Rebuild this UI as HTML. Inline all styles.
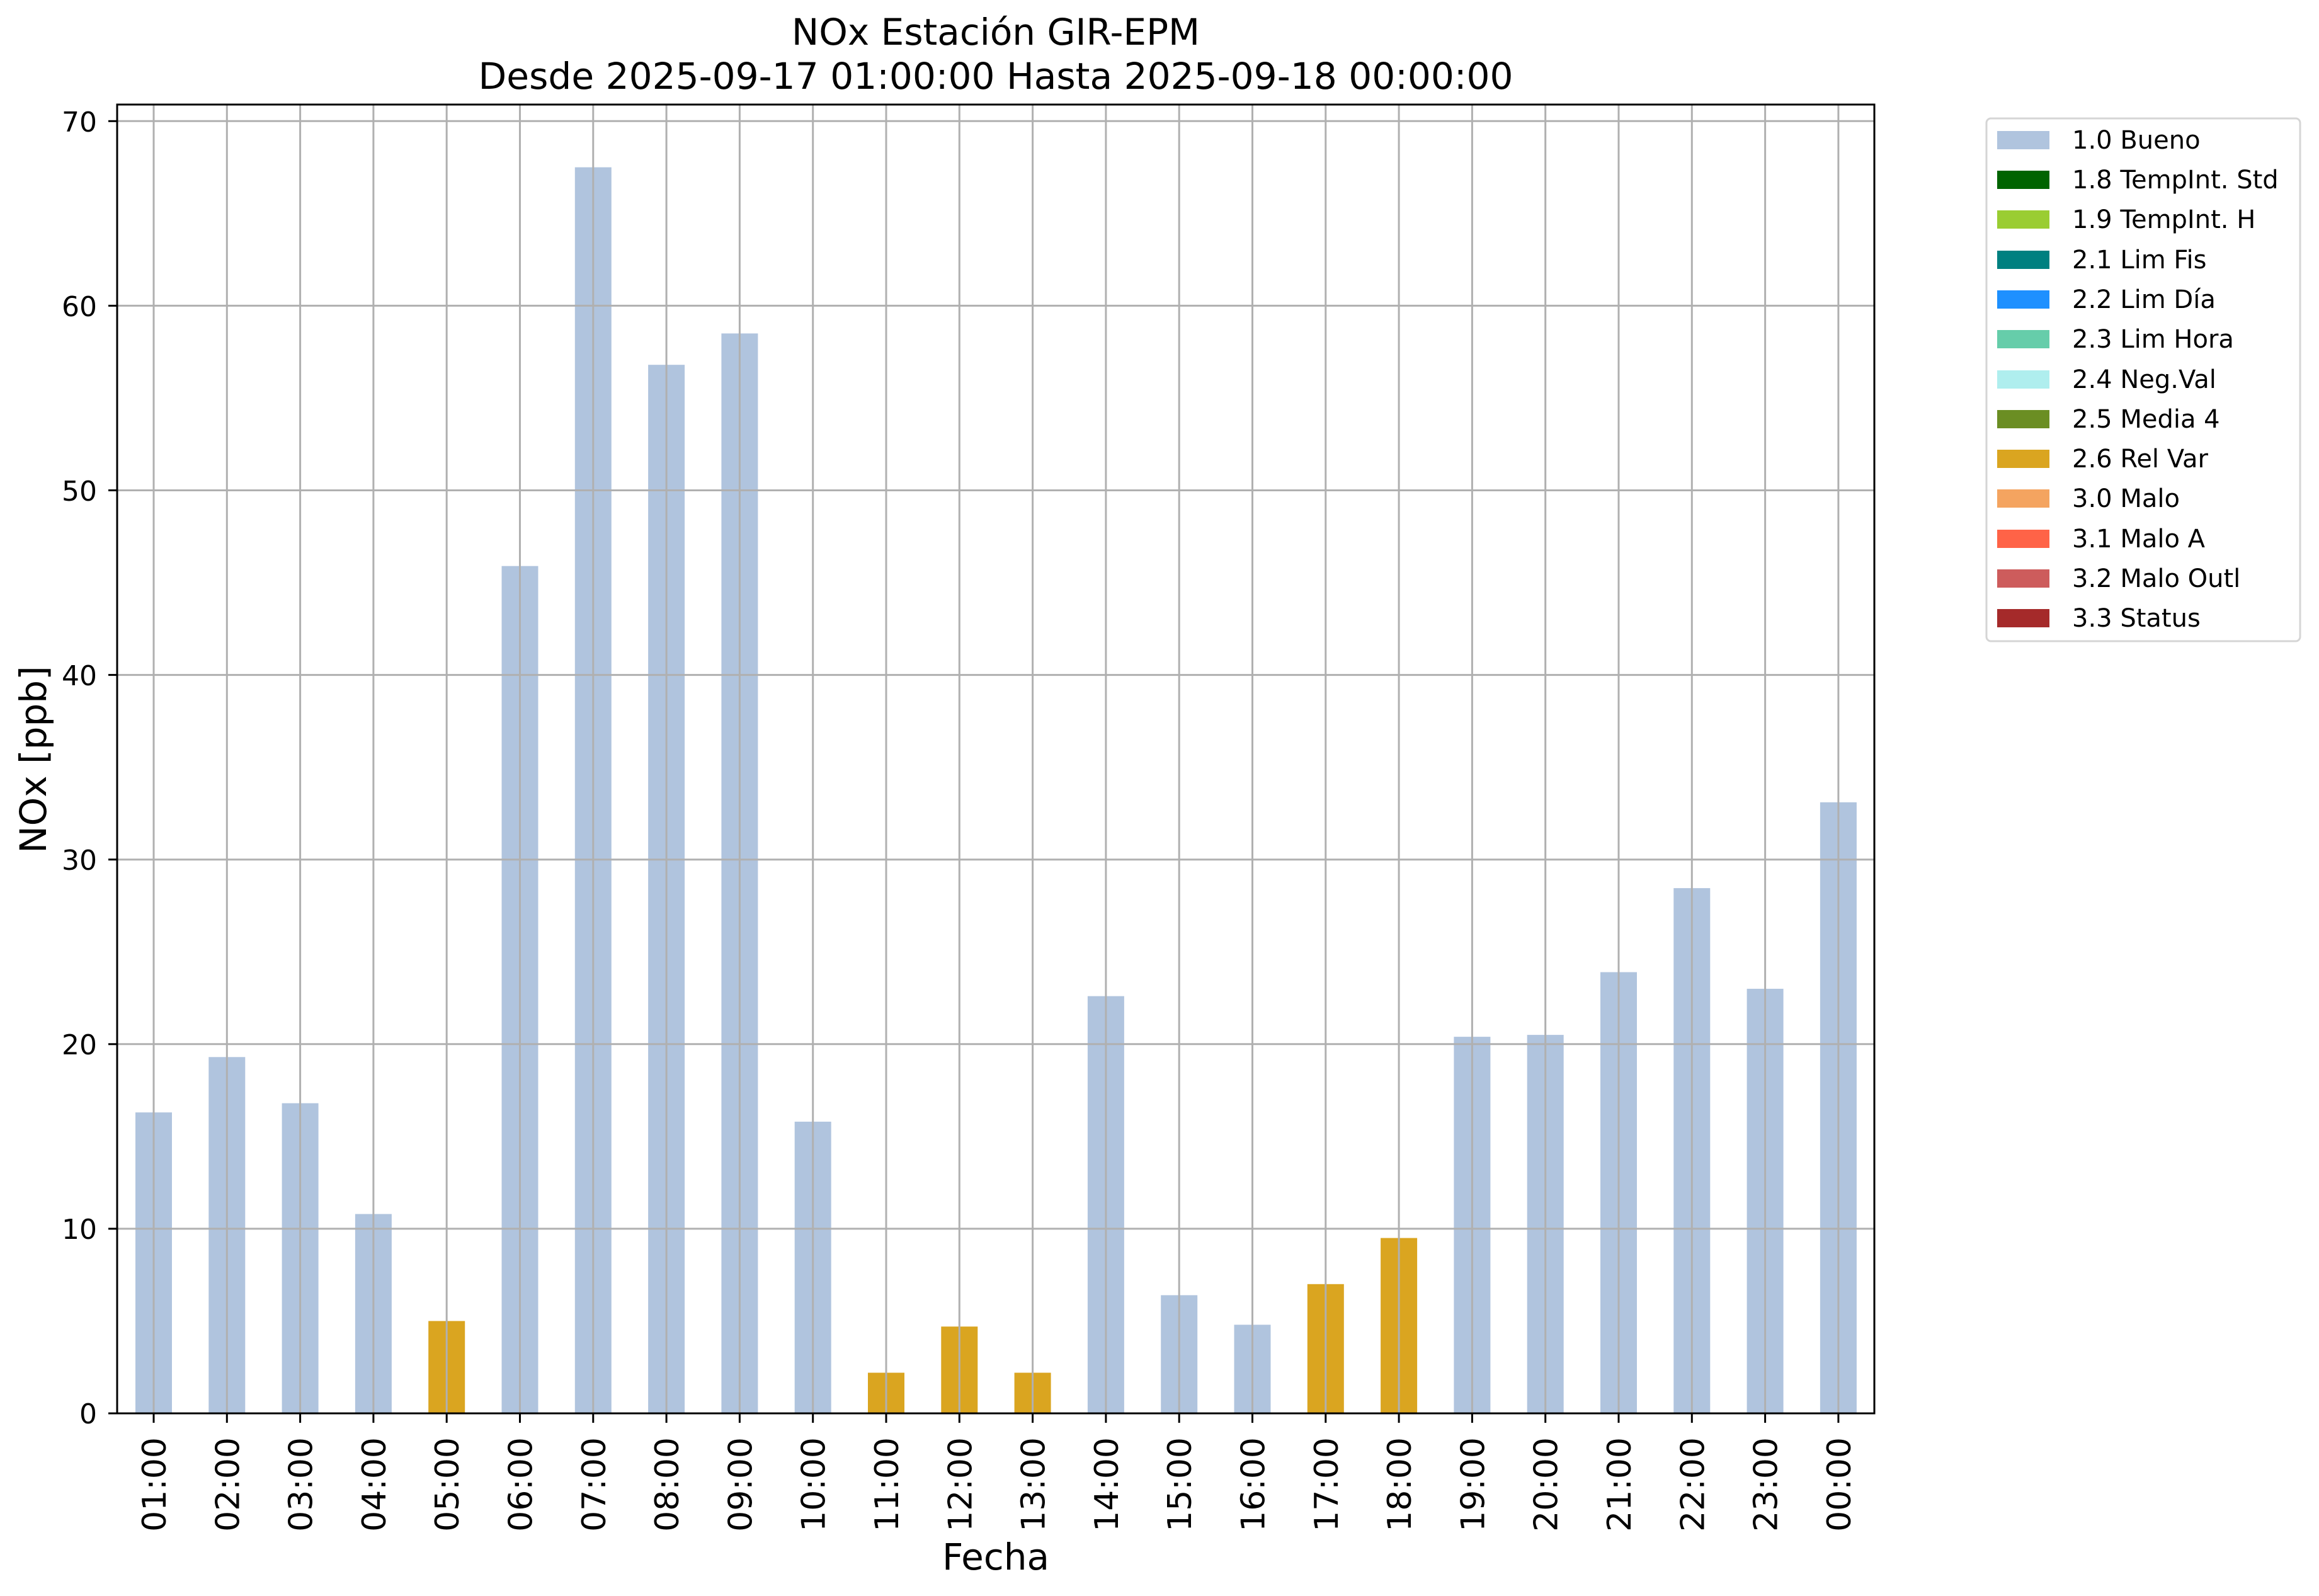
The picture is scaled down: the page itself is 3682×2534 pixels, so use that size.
<!DOCTYPE html>
<html><head><meta charset="utf-8"><style>html,body{margin:0;padding:0;background:#fff}svg{display:block}</style></head>
<body>
<svg xmlns="http://www.w3.org/2000/svg" width="3682" height="2534" viewBox="0 0 3682 2534" font-family="'DejaVu Sans','Liberation Sans',sans-serif">
<rect width="3682" height="2534" fill="#fff"/>
<g fill="#b0c4de">
<rect x="215" y="1766.2" width="58" height="477.8"/>
<rect x="331.3" y="1678.3" width="58" height="565.7"/>
<rect x="447.6" y="1751.6" width="58" height="492.4"/>
<rect x="563.9" y="1927.5" width="58" height="316.5"/>
<rect x="796.5" y="898.7" width="58" height="1345.3"/>
<rect x="912.8" y="265.6" width="58" height="1978.4"/>
<rect x="1029.1" y="579.2" width="58" height="1664.8"/>
<rect x="1145.4" y="529.4" width="58" height="1714.6"/>
<rect x="1261.7" y="1780.9" width="58" height="463.1"/>
<rect x="1726.9" y="1581.6" width="58" height="662.4"/>
<rect x="1843.2" y="2056.4" width="58" height="187.6"/>
<rect x="1959.5" y="2103.3" width="58" height="140.7"/>
<rect x="2308.4" y="1646.1" width="58" height="597.9"/>
<rect x="2424.7" y="1643.1" width="58" height="600.9"/>
<rect x="2541" y="1543.5" width="58" height="700.5"/>
<rect x="2657.3" y="1410.1" width="58" height="833.9"/>
<rect x="2773.6" y="1569.9" width="58" height="674.1"/>
<rect x="2889.9" y="1273.8" width="58" height="970.2"/>
</g>
<g fill="#daa520">
<rect x="680.2" y="2097.4" width="58" height="146.6"/>
<rect x="1378" y="2179.5" width="58" height="64.5"/>
<rect x="1494.3" y="2106.2" width="58" height="137.8"/>
<rect x="1610.6" y="2179.5" width="58" height="64.5"/>
<rect x="2075.8" y="2038.8" width="58" height="205.2"/>
<rect x="2192.1" y="1965.6" width="58" height="278.4"/>
</g>
<g stroke="#b0b0b0" stroke-width="3">
<line x1="244" x2="244" y1="166" y2="2244"/>
<line x1="360.3" x2="360.3" y1="166" y2="2244"/>
<line x1="476.6" x2="476.6" y1="166" y2="2244"/>
<line x1="592.9" x2="592.9" y1="166" y2="2244"/>
<line x1="709.2" x2="709.2" y1="166" y2="2244"/>
<line x1="825.5" x2="825.5" y1="166" y2="2244"/>
<line x1="941.8" x2="941.8" y1="166" y2="2244"/>
<line x1="1058.1" x2="1058.1" y1="166" y2="2244"/>
<line x1="1174.4" x2="1174.4" y1="166" y2="2244"/>
<line x1="1290.7" x2="1290.7" y1="166" y2="2244"/>
<line x1="1407" x2="1407" y1="166" y2="2244"/>
<line x1="1523.3" x2="1523.3" y1="166" y2="2244"/>
<line x1="1639.6" x2="1639.6" y1="166" y2="2244"/>
<line x1="1755.9" x2="1755.9" y1="166" y2="2244"/>
<line x1="1872.2" x2="1872.2" y1="166" y2="2244"/>
<line x1="1988.5" x2="1988.5" y1="166" y2="2244"/>
<line x1="2104.8" x2="2104.8" y1="166" y2="2244"/>
<line x1="2221.1" x2="2221.1" y1="166" y2="2244"/>
<line x1="2337.4" x2="2337.4" y1="166" y2="2244"/>
<line x1="2453.7" x2="2453.7" y1="166" y2="2244"/>
<line x1="2570" x2="2570" y1="166" y2="2244"/>
<line x1="2686.3" x2="2686.3" y1="166" y2="2244"/>
<line x1="2802.6" x2="2802.6" y1="166" y2="2244"/>
<line x1="2918.9" x2="2918.9" y1="166" y2="2244"/>
<line x1="186" x2="2976" y1="1950.9" y2="1950.9"/>
<line x1="186" x2="2976" y1="1657.8" y2="1657.8"/>
<line x1="186" x2="2976" y1="1364.7" y2="1364.7"/>
<line x1="186" x2="2976" y1="1071.6" y2="1071.6"/>
<line x1="186" x2="2976" y1="778.5" y2="778.5"/>
<line x1="186" x2="2976" y1="485.4" y2="485.4"/>
<line x1="186" x2="2976" y1="192.3" y2="192.3"/>
</g>
<rect x="186" y="166" width="2790" height="2078" fill="none" stroke="#000" stroke-width="3"/>
<g stroke="#000" stroke-width="3">
<line x1="172" x2="186" y1="2244" y2="2244"/>
<line x1="172" x2="186" y1="1950.9" y2="1950.9"/>
<line x1="172" x2="186" y1="1657.8" y2="1657.8"/>
<line x1="172" x2="186" y1="1364.7" y2="1364.7"/>
<line x1="172" x2="186" y1="1071.6" y2="1071.6"/>
<line x1="172" x2="186" y1="778.5" y2="778.5"/>
<line x1="172" x2="186" y1="485.4" y2="485.4"/>
<line x1="172" x2="186" y1="192.3" y2="192.3"/>
<line x1="244" x2="244" y1="2244" y2="2259"/>
<line x1="360.3" x2="360.3" y1="2244" y2="2259"/>
<line x1="476.6" x2="476.6" y1="2244" y2="2259"/>
<line x1="592.9" x2="592.9" y1="2244" y2="2259"/>
<line x1="709.2" x2="709.2" y1="2244" y2="2259"/>
<line x1="825.5" x2="825.5" y1="2244" y2="2259"/>
<line x1="941.8" x2="941.8" y1="2244" y2="2259"/>
<line x1="1058.1" x2="1058.1" y1="2244" y2="2259"/>
<line x1="1174.4" x2="1174.4" y1="2244" y2="2259"/>
<line x1="1290.7" x2="1290.7" y1="2244" y2="2259"/>
<line x1="1407" x2="1407" y1="2244" y2="2259"/>
<line x1="1523.3" x2="1523.3" y1="2244" y2="2259"/>
<line x1="1639.6" x2="1639.6" y1="2244" y2="2259"/>
<line x1="1755.9" x2="1755.9" y1="2244" y2="2259"/>
<line x1="1872.2" x2="1872.2" y1="2244" y2="2259"/>
<line x1="1988.5" x2="1988.5" y1="2244" y2="2259"/>
<line x1="2104.8" x2="2104.8" y1="2244" y2="2259"/>
<line x1="2221.1" x2="2221.1" y1="2244" y2="2259"/>
<line x1="2337.4" x2="2337.4" y1="2244" y2="2259"/>
<line x1="2453.7" x2="2453.7" y1="2244" y2="2259"/>
<line x1="2570" x2="2570" y1="2244" y2="2259"/>
<line x1="2686.3" x2="2686.3" y1="2244" y2="2259"/>
<line x1="2802.6" x2="2802.6" y1="2244" y2="2259"/>
<line x1="2918.9" x2="2918.9" y1="2244" y2="2259"/>
</g>
<g font-size="44" text-anchor="end" fill="#000">
<text x="154" y="2260">0</text>
<text x="154" y="1967">10</text>
<text x="154" y="1674">20</text>
<text x="154" y="1381">30</text>
<text x="154" y="1088">40</text>
<text x="154" y="795">50</text>
<text x="154" y="502">60</text>
<text x="154" y="209">70</text>
</g>
<g font-size="52" text-anchor="end" fill="#000">
<text transform="translate(263,2282) rotate(-90)">01:00</text>
<text transform="translate(379.3,2282) rotate(-90)">02:00</text>
<text transform="translate(495.6,2282) rotate(-90)">03:00</text>
<text transform="translate(611.9,2282) rotate(-90)">04:00</text>
<text transform="translate(728.2,2282) rotate(-90)">05:00</text>
<text transform="translate(844.5,2282) rotate(-90)">06:00</text>
<text transform="translate(960.8,2282) rotate(-90)">07:00</text>
<text transform="translate(1077.1,2282) rotate(-90)">08:00</text>
<text transform="translate(1193.4,2282) rotate(-90)">09:00</text>
<text transform="translate(1309.7,2282) rotate(-90)">10:00</text>
<text transform="translate(1426,2282) rotate(-90)">11:00</text>
<text transform="translate(1542.3,2282) rotate(-90)">12:00</text>
<text transform="translate(1658.6,2282) rotate(-90)">13:00</text>
<text transform="translate(1774.9,2282) rotate(-90)">14:00</text>
<text transform="translate(1891.2,2282) rotate(-90)">15:00</text>
<text transform="translate(2007.5,2282) rotate(-90)">16:00</text>
<text transform="translate(2123.8,2282) rotate(-90)">17:00</text>
<text transform="translate(2240.1,2282) rotate(-90)">18:00</text>
<text transform="translate(2356.4,2282) rotate(-90)">19:00</text>
<text transform="translate(2472.7,2282) rotate(-90)">20:00</text>
<text transform="translate(2589,2282) rotate(-90)">21:00</text>
<text transform="translate(2705.3,2282) rotate(-90)">22:00</text>
<text transform="translate(2821.6,2282) rotate(-90)">23:00</text>
<text transform="translate(2937.9,2282) rotate(-90)">00:00</text>
</g>
<text x="1581" y="71" font-size="58" text-anchor="middle">NOx Estación GIR-EPM</text>
<text x="1581" y="141" font-size="58" text-anchor="middle" textLength="1643" lengthAdjust="spacingAndGlyphs">Desde 2025-09-17 01:00:00 Hasta 2025-09-18 00:00:00</text>
<text x="1581" y="2492" font-size="58" text-anchor="middle">Fecha</text>
<text transform="translate(73,1206) rotate(-90)" font-size="58" text-anchor="middle">NOx [ppb]</text>
<rect x="3154" y="188" width="498" height="830" rx="7" fill="#fff" stroke="#d5d5d5" stroke-width="3"/>
<g font-size="40" fill="#000">
<rect x="3171" y="208" width="83" height="29" fill="#b0c4de"/><text x="3290" y="236">1.0 Bueno</text>
<rect x="3171" y="271" width="83" height="29" fill="#006400"/><text x="3290" y="299">1.8 TempInt. Std</text>
<rect x="3171" y="334" width="83" height="29" fill="#9acd32"/><text x="3290" y="362">1.9 TempInt. H</text>
<rect x="3171" y="398" width="83" height="29" fill="#008080"/><text x="3290" y="426">2.1 Lim Fis</text>
<rect x="3171" y="461" width="83" height="29" fill="#1e90ff"/><text x="3290" y="489">2.2 Lim Día</text>
<rect x="3171" y="524" width="83" height="29" fill="#66cdaa"/><text x="3290" y="552">2.3 Lim Hora</text>
<rect x="3171" y="588" width="83" height="29" fill="#afeeee"/><text x="3290" y="616">2.4 Neg.Val</text>
<rect x="3171" y="651" width="83" height="29" fill="#6b8e23"/><text x="3290" y="679">2.5 Media 4</text>
<rect x="3171" y="714" width="83" height="29" fill="#daa520"/><text x="3290" y="742">2.6 Rel Var</text>
<rect x="3171" y="777" width="83" height="29" fill="#f4a460"/><text x="3290" y="805">3.0 Malo</text>
<rect x="3171" y="841" width="83" height="29" fill="#ff6347"/><text x="3290" y="869">3.1 Malo A</text>
<rect x="3171" y="904" width="83" height="29" fill="#cd5c5c"/><text x="3290" y="932">3.2 Malo Outl</text>
<rect x="3171" y="967" width="83" height="29" fill="#a52a2a"/><text x="3290" y="995">3.3 Status</text>
</g>
</svg>
</body></html>
